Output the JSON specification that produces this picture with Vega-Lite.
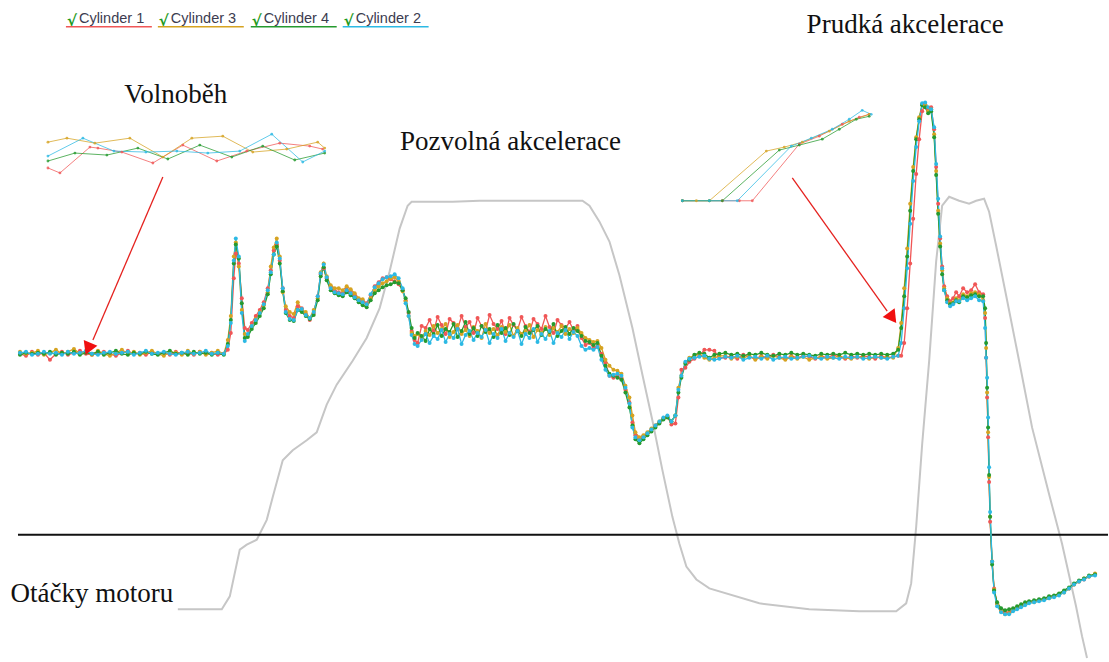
{
"$schema":"https://vega.github.io/schema/vega-lite/v6.json",
"width":1109,"height":662,"padding":0,
"autosize":{"type":"fit","contains":"padding"},
"background":"white",
"config":{"view":{"stroke":null}},
"datasets":{
"sig":[
{"x":20,"c1":356,"c3":354,"c4":357,"c2":355},{"x":26,"c1":358,"c3":356,"c4":355,"c2":354},{"x":32,"c1":354,"c3":355,"c4":356,"c2":357},{"x":38,"c1":357,"c3":353,"c4":355,"c2":356},{"x":44,"c1":355,"c3":357,"c4":356,"c2":354},{"x":50,"c1":362,"c3":355,"c4":354,"c2":356},{"x":56,"c1":356,"c3":352,"c4":357,"c2":355},{"x":62,"c1":354,"c3":356,"c4":355,"c2":357},{"x":68,"c1":357,"c3":354,"c4":356,"c2":354},{"x":74,"c1":355,"c3":351,"c4":354,"c2":356},{"x":80,"c1":353,"c3":356,"c4":357,"c2":355},{"x":86,"c1":356,"c3":354,"c4":355,"c2":353},{"x":92,"c1":357,"c3":357,"c4":356,"c2":356},{"x":98,"c1":355,"c3":353,"c4":354,"c2":357},{"x":104,"c1":354,"c3":356,"c4":357,"c2":355},{"x":110,"c1":356,"c3":358,"c4":355,"c2":354},{"x":116,"c1":358,"c3":355,"c4":353,"c2":356},{"x":122,"c1":355,"c3":352,"c4":356,"c2":355},{"x":128,"c1":353,"c3":356,"c4":357,"c2":354},{"x":134,"c1":356,"c3":354,"c4":355,"c2":357},{"x":140,"c1":355,"c3":357,"c4":356,"c2":355},{"x":146,"c1":357,"c3":355,"c4":354,"c2":353},{"x":152,"c1":354,"c3":353,"c4":356,"c2":356},{"x":158,"c1":356,"c3":356,"c4":357,"c2":355},{"x":164,"c1":355,"c3":358,"c4":355,"c2":354},{"x":170,"c1":357,"c3":354,"c4":353,"c2":356},{"x":176,"c1":354,"c3":355,"c4":356,"c2":357},{"x":182,"c1":356,"c3":357,"c4":355,"c2":355},{"x":188,"c1":355,"c3":353,"c4":357,"c2":354},{"x":194,"c1":357,"c3":356,"c4":354,"c2":356},{"x":200,"c1":354,"c3":354,"c4":356,"c2":355},{"x":206,"c1":356,"c3":357,"c4":355,"c2":353},{"x":212,"c1":355,"c3":355,"c4":357,"c2":356},{"x":218,"c1":357,"c3":353,"c4":355,"c2":355},{"x":224,"c1":356,"c3":356,"c4":357,"c2":356},
{"x":228,"c1":352,"c3":342,"c4":346,"c2":348},{"x":231,"c1":335,"c3":318,"c4":322,"c2":325},{"x":234,"c1":280,"c3":258,"c4":265,"c2":262},{"x":236,"c1":255,"c3":244,"c4":246,"c2":240},{"x":239,"c1":265,"c3":268,"c4":260,"c2":258},{"x":242,"c1":300,"c3":312,"c4":305,"c2":315},{"x":245,"c1":330,"c3":336,"c4":340,"c2":343},{"x":248,"c1":332,"c3":338,"c4":339,"c2":336},{"x":252,"c1":325,"c3":328,"c4":331,"c2":328},{"x":256,"c1":318,"c3":321,"c4":325,"c2":322},{"x":260,"c1":312,"c3":314,"c4":318,"c2":315},{"x":264,"c1":304,"c3":307,"c4":310,"c2":306},{"x":268,"c1":290,"c3":294,"c4":296,"c2":292},{"x":271,"c1":272,"c3":268,"c4":276,"c2":274},{"x":274,"c1":252,"c3":249,"c4":256,"c2":256},{"x":277,"c1":246,"c3":240,"c4":248,"c2":244},{"x":280,"c1":262,"c3":258,"c4":265,"c2":260},{"x":283,"c1":290,"c3":294,"c4":293,"c2":290},{"x":286,"c1":312,"c3":308,"c4":315,"c2":314},{"x":290,"c1":318,"c3":314,"c4":322,"c2":321},{"x":294,"c1":320,"c3":316,"c4":323,"c2":322},{"x":298,"c1":308,"c3":304,"c4":312,"c2":312},{"x":302,"c1":310,"c3":312,"c4":314,"c2":311},{"x":306,"c1":316,"c3":314,"c4":318,"c2":317},{"x":310,"c1":322,"c3":320,"c4":321,"c2":320},{"x":314,"c1":315,"c3":312,"c4":317,"c2":314},{"x":318,"c1":298,"c3":300,"c4":302,"c2":298},{"x":321,"c1":276,"c3":274,"c4":278,"c2":275},{"x":324,"c1":270,"c3":265,"c4":269,"c2":266},{"x":327,"c1":280,"c3":278,"c4":282,"c2":279},{"x":331,"c1":289,"c3":287,"c4":292,"c2":290},{"x":335,"c1":292,"c3":290,"c4":295,"c2":294},{"x":339,"c1":294,"c3":290,"c4":297,"c2":295},{"x":343,"c1":295,"c3":292,"c4":298,"c2":296},{"x":347,"c1":291,"c3":288,"c4":294,"c2":292},{"x":351,"c1":294,"c3":291,"c4":297,"c2":295},{"x":355,"c1":297,"c3":295,"c4":300,"c2":299},{"x":359,"c1":301,"c3":300,"c4":304,"c2":302},{"x":363,"c1":303,"c3":301,"c4":307,"c2":304},{"x":367,"c1":305,"c3":306,"c4":309,"c2":306},{"x":371,"c1":297,"c3":300,"c4":302,"c2":296},{"x":375,"c1":288,"c3":292,"c4":295,"c2":289},{"x":379,"c1":284,"c3":288,"c4":292,"c2":285},{"x":383,"c1":280,"c3":285,"c4":289,"c2":281},{"x":387,"c1":279,"c3":283,"c4":287,"c2":279},{"x":391,"c1":281,"c3":280,"c4":286,"c2":278},{"x":395,"c1":283,"c3":279,"c4":284,"c2":276},{"x":399,"c1":286,"c3":283,"c4":285,"c2":280},{"x":403,"c1":292,"c3":293,"c4":292,"c2":290},{"x":406,"c1":302,"c3":303,"c4":300,"c2":305},{"x":409,"c1":315,"c3":318,"c4":314,"c2":318},{"x":412,"c1":333,"c3":335,"c4":330,"c2":337},{"x":415,"c1":342,"c3":338,"c4":340,"c2":346},
{"x":418,"c1":345,"c3":336,"c4":335,"c2":348},{"x":422,"c1":328,"c3":340,"c4":338,"c2":342},{"x":426,"c1":330,"c3":333,"c4":343,"c2":336},{"x":430,"c1":322,"c3":337,"c4":331,"c2":345},{"x":434,"c1":333,"c3":328,"c4":336,"c2":338},{"x":438,"c1":319,"c3":335,"c4":327,"c2":341},{"x":442,"c1":327,"c3":331,"c4":338,"c2":332},{"x":446,"c1":336,"c3":326,"c4":331,"c2":344},{"x":450,"c1":321,"c3":339,"c4":334,"c2":336},{"x":454,"c1":325,"c3":334,"c4":326,"c2":340},{"x":458,"c1":331,"c3":327,"c4":339,"c2":331},{"x":462,"c1":318,"c3":336,"c4":333,"c2":346},{"x":466,"c1":329,"c3":332,"c4":324,"c2":337},{"x":470,"c1":324,"c3":338,"c4":336,"c2":333},{"x":474,"c1":335,"c3":329,"c4":330,"c2":342},{"x":478,"c1":320,"c3":333,"c4":338,"c2":335},{"x":482,"c1":328,"c3":340,"c4":328,"c2":339},{"x":486,"c1":333,"c3":326,"c4":334,"c2":332},{"x":490,"c1":317,"c3":335,"c4":331,"c2":345},{"x":494,"c1":326,"c3":331,"c4":339,"c2":336},{"x":498,"c1":331,"c3":337,"c4":327,"c2":340},{"x":502,"c1":323,"c3":329,"c4":335,"c2":331},{"x":506,"c1":336,"c3":334,"c4":330,"c2":343},{"x":510,"c1":320,"c3":327,"c4":337,"c2":335},{"x":514,"c1":327,"c3":338,"c4":326,"c2":339},{"x":518,"c1":332,"c3":330,"c4":333,"c2":333},{"x":522,"c1":319,"c3":336,"c4":338,"c2":346},{"x":526,"c1":328,"c3":333,"c4":329,"c2":336},{"x":530,"c1":334,"c3":327,"c4":335,"c2":340},{"x":534,"c1":321,"c3":339,"c4":332,"c2":331},{"x":538,"c1":326,"c3":332,"c4":328,"c2":344},{"x":542,"c1":331,"c3":335,"c4":337,"c2":336},{"x":546,"c1":318,"c3":329,"c4":331,"c2":341},{"x":550,"c1":329,"c3":337,"c4":334,"c2":333},{"x":554,"c1":335,"c3":330,"c4":326,"c2":345},{"x":558,"c1":322,"c3":334,"c4":338,"c2":335},{"x":562,"c1":327,"c3":328,"c4":333,"c2":339},{"x":566,"c1":330,"c3":336,"c4":329,"c2":332},{"x":570,"c1":324,"c3":331,"c4":336,"c2":341},{"x":574,"c1":332,"c3":335,"c4":330,"c2":334},{"x":578,"c1":328,"c3":330,"c4":333,"c2":338},
{"x":582,"c1":340,"c3":335,"c4":338,"c2":348},{"x":586,"c1":347,"c3":340,"c4":343,"c2":352},{"x":590,"c1":345,"c3":342,"c4":344,"c2":350},{"x":594,"c1":350,"c3":344,"c4":347,"c2":352},{"x":598,"c1":348,"c3":343,"c4":345,"c2":349},{"x":602,"c1":356,"c3":350,"c4":358,"c2":362},{"x":606,"c1":365,"c3":362,"c4":368,"c2":372},{"x":610,"c1":378,"c3":368,"c4":376,"c2":378},{"x":614,"c1":380,"c3":372,"c4":378,"c2":377},{"x":618,"c1":378,"c3":373,"c4":380,"c2":376},{"x":622,"c1":381,"c3":376,"c4":382,"c2":378},{"x":626,"c1":392,"c3":388,"c4":395,"c2":390},{"x":630,"c1":405,"c3":400,"c4":410,"c2":406},{"x":633,"c1":425,"c3":418,"c4":428,"c2":430},{"x":636,"c1":438,"c3":435,"c4":442,"c2":440},{"x":640,"c1":441,"c3":440,"c4":446,"c2":443},{"x":644,"c1":439,"c3":438,"c4":442,"c2":440},{"x":648,"c1":436,"c3":435,"c4":438,"c2":436},{"x":652,"c1":432,"c3":431,"c4":434,"c2":432},{"x":656,"c1":428,"c3":428,"c4":430,"c2":428},{"x":660,"c1":425,"c3":424,"c4":426,"c2":424},{"x":664,"c1":421,"c3":421,"c4":422,"c2":420},{"x":668,"c1":419,"c3":419,"c4":420,"c2":418},{"x":672,"c1":427,"c3":424,"c4":424,"c2":424},{"x":676,"c1":426,"c3":418,"c4":418,"c2":418},{"x":679,"c1":400,"c3":390,"c4":395,"c2":392},{"x":682,"c1":372,"c3":378,"c4":380,"c2":378},{"x":686,"c1":370,"c3":365,"c4":366,"c2":364},{"x":690,"c1":364,"c3":360,"c4":362,"c2":361},{"x":695,"c1":361,"c3":358,"c4":357,"c2":360},{"x":700,"c1":358,"c3":356,"c4":355,"c2":359},{"x":705,"c1":352,"c3":360,"c4":356,"c2":358},{"x":710,"c1":352,"c3":362,"c4":360,"c2":361},{"x":715,"c1":353,"c3":360,"c4":357,"c2":362},{"x":720,"c1":360,"c3":358,"c4":356,"c2":361},
{"x":726,"c1":360,"c3":358,"c4":355,"c2":359},{"x":732,"c1":358,"c3":361,"c4":357,"c2":360},{"x":738,"c1":361,"c3":359,"c4":356,"c2":358},{"x":744,"c1":357,"c3":360,"c4":358,"c2":362},{"x":750,"c1":359,"c3":358,"c4":356,"c2":360},{"x":756,"c1":361,"c3":362,"c4":357,"c2":359},{"x":762,"c1":358,"c3":359,"c4":355,"c2":361},{"x":768,"c1":360,"c3":361,"c4":357,"c2":358},{"x":774,"c1":357,"c3":358,"c4":358,"c2":362},{"x":780,"c1":359,"c3":360,"c4":356,"c2":360},{"x":786,"c1":361,"c3":362,"c4":357,"c2":359},{"x":792,"c1":358,"c3":359,"c4":355,"c2":361},{"x":798,"c1":360,"c3":361,"c4":357,"c2":360},{"x":804,"c1":358,"c3":359,"c4":356,"c2":359},{"x":810,"c1":359,"c3":362,"c4":357,"c2":358},{"x":816,"c1":361,"c3":360,"c4":358,"c2":360},{"x":822,"c1":358,"c3":359,"c4":356,"c2":361},{"x":828,"c1":360,"c3":361,"c4":357,"c2":359},{"x":834,"c1":357,"c3":360,"c4":356,"c2":360},{"x":840,"c1":359,"c3":358,"c4":357,"c2":361},{"x":846,"c1":361,"c3":360,"c4":355,"c2":359},{"x":852,"c1":358,"c3":361,"c4":357,"c2":360},{"x":858,"c1":360,"c3":359,"c4":356,"c2":359},{"x":864,"c1":358,"c3":360,"c4":357,"c2":361},{"x":870,"c1":359,"c3":361,"c4":356,"c2":360},{"x":876,"c1":361,"c3":359,"c4":357,"c2":359},{"x":882,"c1":358,"c3":360,"c4":356,"c2":360},{"x":888,"c1":360,"c3":359,"c4":357,"c2":361},{"x":894,"c1":359,"c3":360,"c4":356,"c2":359},{"x":899,"c1":358,"c3":350,"c4":352,"c2":358},
{"x":902,"c1":358,"c3":325,"c4":330,"c2":345},{"x":905,"c1":345,"c3":290,"c4":298,"c2":310},{"x":908,"c1":310,"c3":250,"c4":258,"c2":270},{"x":911,"c1":265,"c3":205,"c4":212,"c2":225},{"x":914,"c1":220,"c3":168,"c4":172,"c2":182},{"x":917,"c1":175,"c3":138,"c4":140,"c2":148},{"x":920,"c1":140,"c3":118,"c4":120,"c2":122},{"x":923,"c1":112,"c3":105,"c4":106,"c2":104},{"x":926,"c1":105,"c3":106,"c4":108,"c2":103},{"x":929,"c1":110,"c3":112,"c4":114,"c2":108},{"x":932,"c1":108,"c3":110,"c4":112,"c2":110},{"x":935,"c1":130,"c3":135,"c4":138,"c2":128},{"x":937,"c1":168,"c3":172,"c4":176,"c2":165},{"x":939,"c1":205,"c3":212,"c4":215,"c2":200},{"x":941,"c1":240,"c3":245,"c4":248,"c2":238},{"x":943,"c1":268,"c3":272,"c4":276,"c2":270},{"x":945,"c1":288,"c3":290,"c4":292,"c2":292},{"x":948,"c1":298,"c3":300,"c4":302,"c2":304},{"x":951,"c1":303,"c3":305,"c4":306,"c2":308},{"x":954,"c1":300,"c3":304,"c4":305,"c2":306},{"x":957,"c1":294,"c3":300,"c4":302,"c2":303},{"x":960,"c1":298,"c3":302,"c4":304,"c2":303},{"x":964,"c1":290,"c3":296,"c4":298,"c2":300},{"x":968,"c1":294,"c3":298,"c4":299,"c2":302},{"x":972,"c1":292,"c3":295,"c4":297,"c2":300},{"x":976,"c1":286,"c3":294,"c4":296,"c2":298},{"x":980,"c1":294,"c3":296,"c4":298,"c2":302},{"x":984,"c1":296,"c3":302,"c4":298,"c2":303},{"x":986,"c1":320,"c3":315,"c4":310,"c2":330},{"x":987,"c1":360,"c3":350,"c4":345,"c2":360},{"x":988,"c1":400,"c3":395,"c4":390,"c2":380},{"x":989,"c1":440,"c3":435,"c4":430,"c2":420},{"x":990,"c1":485,"c3":480,"c4":478,"c2":470},{"x":991,"c1":525,"c3":520,"c4":520,"c2":515},{"x":993,"c1":565,"c3":565,"c4":568,"c2":565},{"x":995,"c1":592,"c3":593,"c4":594,"c2":596},{"x":998,"c1":607,"c3":608,"c4":606,"c2":610},{"x":1002,"c1":614,"c3":615,"c4":612,"c2":616},{"x":1006,"c1":616,"c3":618,"c4":614,"c2":618},{"x":1010,"c1":616,"c3":617,"c4":613,"c2":618},{"x":1014,"c1":613,"c3":614,"c4":612,"c2":615},{"x":1018,"c1":612,"c3":612,"c4":610,"c2":613},{"x":1022,"c1":610,"c3":610,"c4":608,"c2":611},{"x":1026,"c1":607,"c3":608,"c4":606,"c2":609},{"x":1030,"c1":606,"c3":606,"c4":605,"c2":607},{"x":1035,"c1":605,"c3":606,"c4":604,"c2":606},{"x":1040,"c1":604,"c3":604,"c4":603,"c2":605},{"x":1045,"c1":603,"c3":603,"c4":602,"c2":604},{"x":1050,"c1":601,"c3":602,"c4":600,"c2":602},{"x":1055,"c1":600,"c3":600,"c4":599,"c2":601},{"x":1060,"c1":598,"c3":598,"c4":597,"c2":599},{"x":1065,"c1":595,"c3":596,"c4":594,"c2":596},{"x":1070,"c1":592,"c3":592,"c4":591,"c2":592},{"x":1075,"c1":588,"c3":588,"c4":587,"c2":588},{"x":1080,"c1":585,"c3":585,"c4":584,"c2":585},{"x":1085,"c1":583,"c3":582,"c4":582,"c2":583},{"x":1090,"c1":580,"c3":580,"c4":579,"c2":580},{"x":1096,"c1":578,"c3":577,"c4":578,"c2":579}
],
"rpm":[
{"x":178,"y":613},{"x":222,"y":613},{"x":230,"y":600},{"x":240,"y":553},{"x":247,"y":548},{"x":257,"y":543},{"x":267,"y":523},{"x":273,"y":500},{"x":283,"y":463},{"x":293,"y":453},{"x":307,"y":443},{"x":317,"y":435},{"x":327,"y":407},{"x":337,"y":387},{"x":353,"y":363},{"x":367,"y":340},{"x":380,"y":310},{"x":390,"y":273},{"x":400,"y":230},{"x":408,"y":207},{"x":412,"y":203},{"x":453,"y":203},{"x":480,"y":202},{"x":520,"y":202},{"x":560,"y":202},{"x":583,"y":202},{"x":590,"y":207},{"x":600,"y":223},{"x":610,"y":243},{"x":620,"y":277},{"x":633,"y":330},{"x":643,"y":377},{"x":653,"y":423},{"x":663,"y":473},{"x":673,"y":520},{"x":680,"y":547},{"x":687,"y":570},{"x":697,"y":583},{"x":710,"y":592},{"x":760,"y":607},{"x":810,"y":613},{"x":860,"y":615},{"x":897,"y":615},{"x":907,"y":607},{"x":912,"y":587},{"x":917,"y":530},{"x":923,"y":447},{"x":930,"y":363},{"x":937,"y":263},{"x":943,"y":207},{"x":950,"y":198},{"x":960,"y":202},{"x":970,"y":205},{"x":977,"y":202},{"x":985,"y":200},{"x":990,"y":213},{"x":997,"y":247},{"x":1007,"y":297},{"x":1020,"y":363},{"x":1033,"y":430},{"x":1050,"y":497},{"x":1063,"y":547},{"x":1077,"y":610},{"x":1083,"y":640},{"x":1088,"y":662}
],
"ins":[
{"g":"i1","k":"c1","x":48,"y":169},{"g":"i1","k":"c1","x":60,"y":174},{"g":"i1","k":"c1","x":90,"y":148},{"g":"i1","k":"c1","x":98,"y":149},{"g":"i1","k":"c1","x":122,"y":153},{"g":"i1","k":"c1","x":153,"y":164},{"g":"i1","k":"c1","x":183,"y":146},{"g":"i1","k":"c1","x":217,"y":162},{"g":"i1","k":"c1","x":247,"y":152},{"g":"i1","k":"c1","x":280,"y":144},{"g":"i1","k":"c1","x":310,"y":147},{"g":"i1","k":"c1","x":323,"y":150},
{"g":"i1","k":"c3","x":48,"y":143},{"g":"i1","k":"c3","x":67,"y":139},{"g":"i1","k":"c3","x":95,"y":144},{"g":"i1","k":"c3","x":130,"y":139},{"g":"i1","k":"c3","x":163,"y":158},{"g":"i1","k":"c3","x":192,"y":139},{"g":"i1","k":"c3","x":223,"y":137},{"g":"i1","k":"c3","x":253,"y":153},{"g":"i1","k":"c3","x":287,"y":150},{"g":"i1","k":"c3","x":318,"y":143},{"g":"i1","k":"c3","x":325,"y":149},
{"g":"i1","k":"c4","x":48,"y":162},{"g":"i1","k":"c4","x":75,"y":154},{"g":"i1","k":"c4","x":107,"y":156},{"g":"i1","k":"c4","x":138,"y":149},{"g":"i1","k":"c4","x":168,"y":160},{"g":"i1","k":"c4","x":200,"y":146},{"g":"i1","k":"c4","x":232,"y":158},{"g":"i1","k":"c4","x":263,"y":147},{"g":"i1","k":"c4","x":295,"y":161},{"g":"i1","k":"c4","x":325,"y":154},
{"g":"i1","k":"c2","x":48,"y":157},{"g":"i1","k":"c2","x":83,"y":139},{"g":"i1","k":"c2","x":114,"y":152},{"g":"i1","k":"c2","x":146,"y":153},{"g":"i1","k":"c2","x":177,"y":152},{"g":"i1","k":"c2","x":208,"y":154},{"g":"i1","k":"c2","x":240,"y":152},{"g":"i1","k":"c2","x":272,"y":135},{"g":"i1","k":"c2","x":303,"y":163},{"g":"i1","k":"c2","x":325,"y":152},
{"g":"i2","k":"c1","x":683,"y":202},{"g":"i2","k":"c1","x":723,"y":202},{"g":"i2","k":"c1","x":740,"y":202},{"g":"i2","k":"c1","x":753,"y":202},{"g":"i2","k":"c1","x":800,"y":145},{"g":"i2","k":"c1","x":820,"y":137},{"g":"i2","k":"c1","x":843,"y":125},{"g":"i2","k":"c1","x":860,"y":118},{"g":"i2","k":"c1","x":870,"y":115},
{"g":"i2","k":"c3","x":683,"y":202},{"g":"i2","k":"c3","x":697,"y":202},{"g":"i2","k":"c3","x":710,"y":202},{"g":"i2","k":"c3","x":767,"y":152},{"g":"i2","k":"c3","x":785,"y":148},{"g":"i2","k":"c3","x":803,"y":143},{"g":"i2","k":"c3","x":830,"y":132},{"g":"i2","k":"c3","x":850,"y":122},{"g":"i2","k":"c3","x":870,"y":115},
{"g":"i2","k":"c4","x":683,"y":202},{"g":"i2","k":"c4","x":710,"y":202},{"g":"i2","k":"c4","x":723,"y":202},{"g":"i2","k":"c4","x":780,"y":151},{"g":"i2","k":"c4","x":800,"y":146},{"g":"i2","k":"c4","x":823,"y":140},{"g":"i2","k":"c4","x":840,"y":130},{"g":"i2","k":"c4","x":857,"y":120},{"g":"i2","k":"c4","x":870,"y":117},
{"g":"i2","k":"c2","x":683,"y":202},{"g":"i2","k":"c2","x":710,"y":202},{"g":"i2","k":"c2","x":738,"y":202},{"g":"i2","k":"c2","x":792,"y":147},{"g":"i2","k":"c2","x":812,"y":139},{"g":"i2","k":"c2","x":833,"y":130},{"g":"i2","k":"c2","x":850,"y":120},{"g":"i2","k":"c2","x":863,"y":111},{"g":"i2","k":"c2","x":872,"y":115}
],
"arrows":[{"x":163,"y":178,"x2":93,"y2":342},{"x":793,"y":179,"x2":888,"y2":313}],
"labels":[{"t":"Volnoběh","x":176,"y":96},{"t":"Pozvolná akcelerace","x":511,"y":143},{"t":"Prudká akcelerace","x":906,"y":25},{"t":"Otáčky motoru","x":92,"y":598}],
"leg":[{"k":"c1","label":"Cylinder 1","x":79,"xs":66,"xe":152},{"k":"c3","label":"Cylinder 3","x":171,"xs":158,"xe":244},{"k":"c4","label":"Cylinder 4","x":264,"xs":251,"xe":337},{"k":"c2","label":"Cylinder 2","x":356,"xs":343,"xe":429}],
"hr":[{"x":18,"x2":1109,"y":538}]
},
"encoding":{
"x":{"type":"quantitative","scale":{"domain":[0,1109],"nice":false,"zero":false},"axis":null},
"y":{"type":"quantitative","scale":{"domain":[0,662],"nice":false,"zero":false,"reverse":true},"axis":null}
},
"layer":[
{"data":{"name":"rpm"},"mark":{"type":"line","color":"#c6c6c6","strokeWidth":2},"encoding":{"x":{"field":"x","type":"quantitative"},"y":{"field":"y","type":"quantitative"}}},
{"data":{"name":"hr"},"mark":{"type":"rule","color":"#111111","strokeWidth":2},"encoding":{"x":{"field":"x","type":"quantitative"},"x2":{"field":"x2"},"y":{"field":"y","type":"quantitative"}}},
{"data":{"name":"sig"},"transform":[{"fold":["c1","c3","c4","c2"],"as":["k","v"]}],"mark":{"type":"line","strokeWidth":1.3},"encoding":{"x":{"field":"x","type":"quantitative"},"y":{"field":"v","type":"quantitative"},"color":{"field":"k","type":"nominal","scale":{"domain":["c1","c3","c4","c2"],"range":["#f05656","#d6a321","#259a2e","#2cb9e4"]},"legend":null}}},
{"data":{"name":"sig"},"transform":[{"fold":["c1","c3","c4","c2"],"as":["k","v"]}],"mark":{"type":"point","filled":true,"size":16,"opacity":1},"encoding":{"x":{"field":"x","type":"quantitative"},"y":{"field":"v","type":"quantitative"},"color":{"field":"k","type":"nominal","legend":null}}},
{"data":{"name":"ins"},"mark":{"type":"line","strokeWidth":1,"opacity":0.75},"encoding":{"x":{"field":"x","type":"quantitative"},"y":{"field":"y","type":"quantitative"},"color":{"field":"k","type":"nominal","legend":null},"detail":{"field":"g"}}},
{"data":{"name":"ins"},"mark":{"type":"point","filled":true,"size":8,"opacity":0.8},"encoding":{"x":{"field":"x","type":"quantitative"},"y":{"field":"y","type":"quantitative"},"color":{"field":"k","type":"nominal","legend":null}}},
{"data":{"name":"arrows"},"mark":{"type":"rule","color":"#e5221f","strokeWidth":1.3},"encoding":{"x":{"field":"x","type":"quantitative"},"y":{"field":"y","type":"quantitative"},"x2":{"field":"x2"},"y2":{"field":"y2"}}},
{"data":{"values":[{"x":89,"y":349}]},"mark":{"type":"point","shape":"triangle","filled":true,"color":"#f01010","size":220,"angle":203,"opacity":1},"encoding":{"x":{"field":"x","type":"quantitative"},"y":{"field":"y","type":"quantitative"}}},
{"data":{"values":[{"x":892,"y":318}]},"mark":{"type":"point","shape":"triangle","filled":true,"color":"#f01010","size":220,"angle":144,"opacity":1},"encoding":{"x":{"field":"x","type":"quantitative"},"y":{"field":"y","type":"quantitative"}}},
{"data":{"name":"labels"},"mark":{"type":"text","font":"Liberation Serif","fontSize":27,"color":"#111111","align":"center","baseline":"middle"},"encoding":{"x":{"field":"x","type":"quantitative"},"y":{"field":"y","type":"quantitative"},"text":{"field":"t"}}},
{"data":{"name":"leg"},"mark":{"type":"rule","strokeWidth":1.5},"encoding":{"x":{"field":"xs","type":"quantitative"},"x2":{"field":"xe"},"y":{"datum":27},"color":{"field":"k","type":"nominal","legend":null}}},
{"data":{"name":"leg"},"mark":{"type":"text","font":"Liberation Sans","fontSize":14.5,"color":"#3c3c50","align":"left","baseline":"middle"},"encoding":{"x":{"field":"x","type":"quantitative"},"y":{"datum":19},"text":{"field":"label"}}},
{"data":{"name":"leg"},"mark":{"type":"text","font":"DejaVu Sans","fontSize":15,"fontWeight":"bold","color":"#1d9a1d","align":"center","baseline":"middle","dx":-7,"text":"√"},"encoding":{"x":{"field":"x","type":"quantitative"},"y":{"datum":21}}}
]
}
